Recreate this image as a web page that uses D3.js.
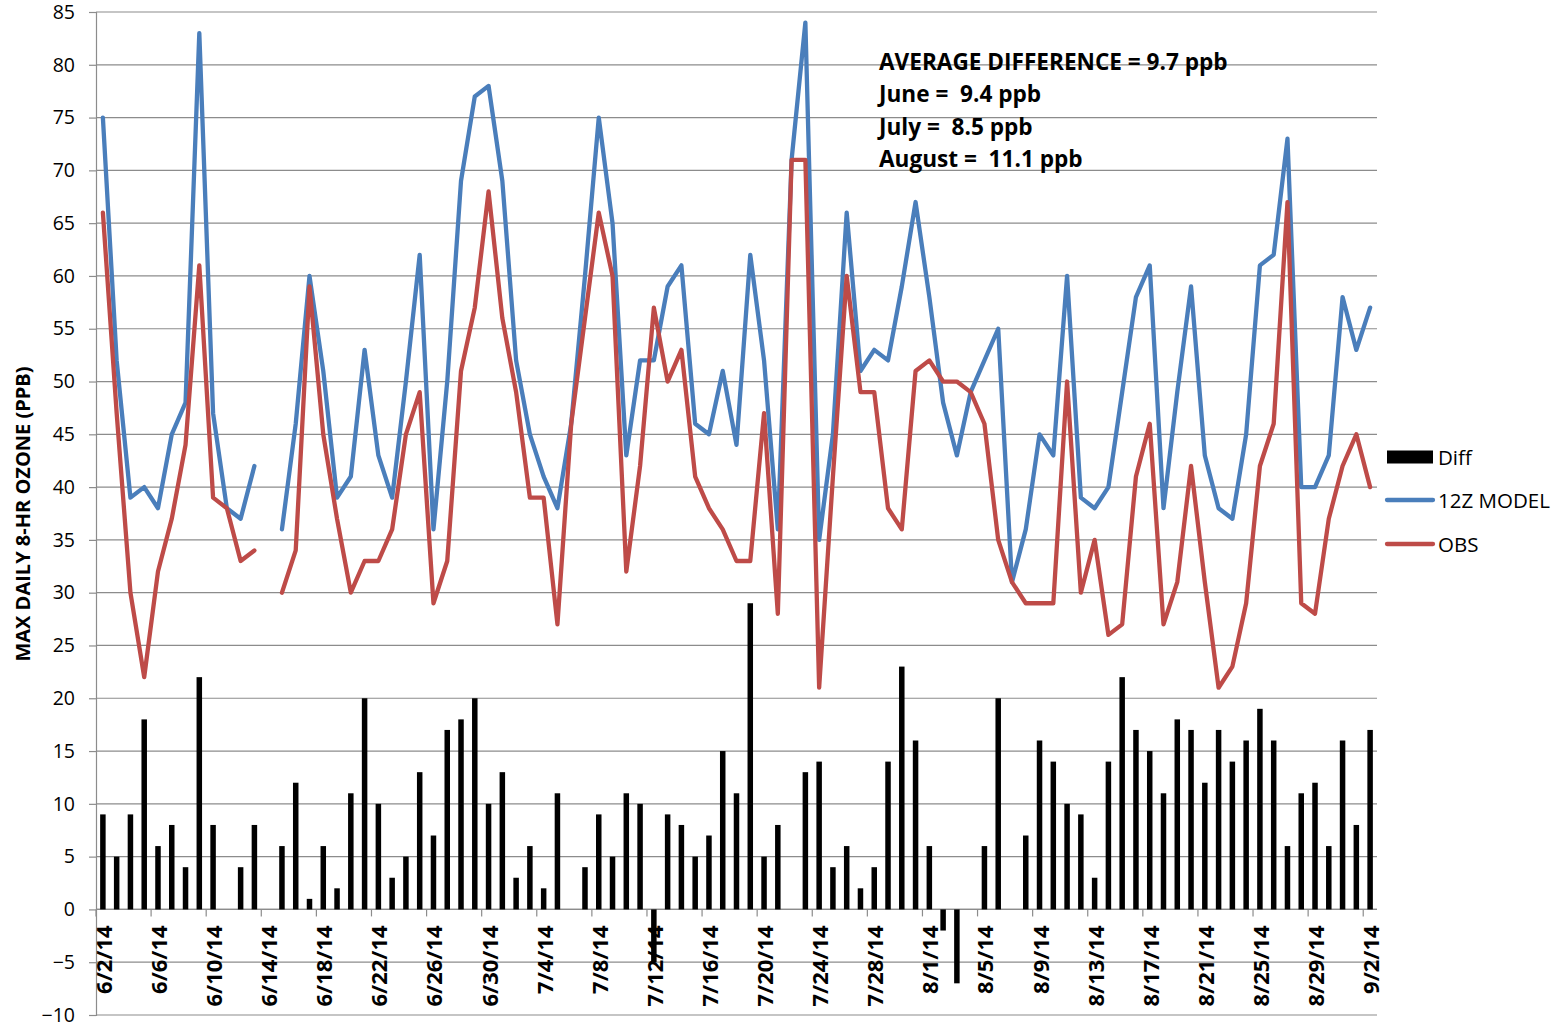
<!DOCTYPE html>
<html>
<head>
<meta charset="utf-8">
<script src="https://cdn.jsdelivr.net/npm/d3@7"></script>
<style>
  html, body { margin: 0; padding: 0; background: #fff; }
  svg { display: block; font-family: "Open Sans", sans-serif; }
</style>
</head>
<body>
<svg id="chart" width="1568" height="1027"></svg>
<script>
const dates = [
  "6/2/14","6/3/14","6/4/14","6/5/14","6/6/14","6/7/14","6/8/14","6/9/14","6/10/14","6/11/14",
  "6/12/14","6/13/14","6/14/14","6/15/14","6/16/14","6/17/14","6/18/14","6/19/14","6/20/14","6/21/14",
  "6/22/14","6/23/14","6/24/14","6/25/14","6/26/14","6/27/14","6/28/14","6/29/14","6/30/14",
  "7/1/14","7/2/14","7/3/14","7/4/14","7/5/14","7/6/14","7/7/14","7/8/14","7/9/14","7/10/14",
  "7/11/14","7/12/14","7/13/14","7/14/14","7/15/14","7/16/14","7/17/14","7/18/14","7/19/14","7/20/14",
  "7/21/14","7/22/14","7/23/14","7/24/14","7/25/14","7/26/14","7/27/14","7/28/14","7/29/14","7/30/14","7/31/14",
  "8/1/14","8/2/14","8/3/14","8/4/14","8/5/14","8/6/14","8/7/14","8/8/14","8/9/14","8/10/14",
  "8/11/14","8/12/14","8/13/14","8/14/14","8/15/14","8/16/14","8/17/14","8/18/14","8/19/14","8/20/14",
  "8/21/14","8/22/14","8/23/14","8/24/14","8/25/14","8/26/14","8/27/14","8/28/14","8/29/14","8/30/14","8/31/14",
  "9/1/14","9/2/14"
];

const model12z = [
  75,52,39,40,38,45,48,83,47,38,37,42,null,36,46,60,51,39,41,53,43,39,50,62,36,50,69,77,78,
  69,52,45,41,38,46,60,75,65,43,52,52,59,61,46,45,51,44,62,52,36,71,84,35,45,66,51,53,52,59,67,
  58,48,43,49,52,55,31,36,45,43,60,39,38,40,49,58,61,38,49,59,43,38,37,45,61,62,73,40,40,43,58,
  53,57
];

const obs = [
  66,47,30,22,32,37,44,61,39,38,33,34,null,30,34,59,45,37,30,33,33,36,45,49,29,33,51,57,68,
  56,49,39,39,27,46,56,66,60,32,42,57,50,53,41,38,36,33,33,47,28,71,71,21,41,60,49,49,38,36,51,
  52,50,50,49,46,35,31,29,29,29,50,30,35,26,27,41,46,27,31,42,31,21,23,29,42,46,67,29,28,37,42,
  45,40
];

const diff = [
  9,5,9,18,6,8,4,22,8,0,4,8,null,6,12,1,6,2,11,20,10,3,5,13,7,17,18,20,10,
  13,3,6,2,11,0,4,9,5,11,10,-5,9,8,5,7,15,11,29,5,8,0,13,14,4,6,2,4,14,23,16,
  6,-2,-7,0,6,20,0,7,16,14,10,9,3,14,22,17,15,11,18,17,12,17,14,16,19,16,6,11,12,6,16,
  8,17
];

const yTicks = [-10,-5,0,5,10,15,20,25,30,35,40,45,50,55,60,65,70,75,80,85];

const seriesNames = ["Diff", "12Z MODEL", "OBS"];
const annotationLines = [
  "AVERAGE DIFFERENCE = 9.7 ppb",
  "June =  9.4 ppb",
  "July =  8.5 ppb",
  "August =  11.1 ppb"
];
const yTitle = "MAX DAILY 8-HR OZONE (PPB)";

const colors = { model: "#4a7ebb", obs: "#be4b48", diff: "#000000", grid: "#8c8c8c" };

const svg = d3.select("#chart");
const plot = { left: 96, right: 1377, top: 12, bottom: 1015 };

const x = d3.scaleBand().domain(dates).range([plot.left, plot.right]).paddingInner(0).paddingOuter(0);
const y = d3.scaleLinear().domain([-10, 85]).range([plot.bottom, plot.top]);
const cx = d => x(d) + x.bandwidth() / 2;

// gridlines
svg.append("g").selectAll("line").data(yTicks).join("line")
  .attr("x1", plot.left).attr("x2", plot.right)
  .attr("y1", d => y(d)).attr("y2", d => y(d))
  .attr("stroke", colors.grid).attr("stroke-width", 1.2);

// y axis
const yAxis = d3.axisLeft(y).tickValues(yTicks).tickSize(7).tickPadding(14).tickFormat(d3.format("d"));
const gy = svg.append("g").attr("transform", `translate(${plot.left},0)`).call(yAxis);
gy.select(".domain").attr("stroke", colors.grid).attr("stroke-width", 1.2);
gy.selectAll(".tick line").attr("stroke", colors.grid).attr("stroke-width", 1.2);
gy.selectAll(".tick text").attr("font-size", 19.5).attr("font-family", "Open Sans").attr("fill", "#000");

// x axis at y=0
const labelDates = dates.filter((d, i) => i % 4 === 0);
const xAxisG = svg.append("g").attr("transform", `translate(0,${y(0)})`);
xAxisG.append("line").attr("x1", plot.left).attr("x2", plot.right)
  .attr("stroke", colors.grid).attr("stroke-width", 1.2);
xAxisG.selectAll("line.tk").data(labelDates).join("line").attr("class", "tk")
  .attr("x1", d => x(d)).attr("x2", d => x(d)).attr("y1", 0).attr("y2", 7)
  .attr("stroke", colors.grid).attr("stroke-width", 1.2);
xAxisG.selectAll("text").data(labelDates).join("text")
  .attr("transform", d => `translate(${cx(d)},16) rotate(-90)`)
  .attr("text-anchor", "end").attr("dominant-baseline", "central")
  .attr("font-size", 22).attr("font-weight", "bold").attr("fill", "#000")
  .text(d => d);

// bars
const bw = 5.5;
svg.append("g").selectAll("rect").data(dates.map((d, i) => ({ d, v: diff[i] })).filter(o => o.v !== null && o.v !== 0))
  .join("rect")
  .attr("x", o => cx(o.d) - bw / 2).attr("width", bw)
  .attr("y", o => Math.min(y(o.v), y(0))).attr("height", o => Math.abs(y(o.v) - y(0)))
  .attr("fill", colors.diff);

// lines
const lineGen = d3.line().defined(o => o.v !== null).x(o => cx(o.d)).y(o => y(o.v));
[[model12z, colors.model], [obs, colors.obs]].forEach(([arr, col]) => {
  svg.append("path").datum(dates.map((d, i) => ({ d, v: arr[i] })))
    .attr("d", lineGen).attr("fill", "none").attr("stroke", col)
    .attr("stroke-width", 4.3).attr("stroke-linejoin", "round").attr("stroke-linecap", "round");
});

// y title
svg.append("text").attr("transform", "translate(22,514) rotate(-90)")
  .attr("text-anchor", "middle").attr("dominant-baseline", "central")
  .attr("font-size", 20).attr("font-weight", "bold").attr("fill", "#000").text(yTitle);

// annotation
svg.append("g").selectAll("text").data(annotationLines).join("text")
  .attr("x", 879).attr("y", (d, i) => 70 + i * 32.3)
  .attr("font-size", 22.6).attr("font-weight", "bold").attr("fill", "#000")
  .attr("xml:space", "preserve").style("white-space", "pre")
  .text(d => d);

// legend
const lg = svg.append("g");
const legY = [457, 500, 544];
lg.append("rect").attr("x", 1387).attr("y", legY[0] - 6.5).attr("width", 46).attr("height", 13).attr("fill", colors.diff);
lg.append("line").attr("x1", 1387).attr("x2", 1433).attr("y1", legY[1]).attr("y2", legY[1])
  .attr("stroke", colors.model).attr("stroke-width", 4.3).attr("stroke-linecap", "round");
lg.append("line").attr("x1", 1387).attr("x2", 1433).attr("y1", legY[2]).attr("y2", legY[2])
  .attr("stroke", colors.obs).attr("stroke-width", 4.3).attr("stroke-linecap", "round");
lg.selectAll("text").data(seriesNames).join("text")
  .attr("x", 1438).attr("y", (d, i) => legY[i])
  .attr("dominant-baseline", "central").attr("font-size", 20.5).attr("fill", "#000")
  .text(d => d);
</script>
</body>
</html>
